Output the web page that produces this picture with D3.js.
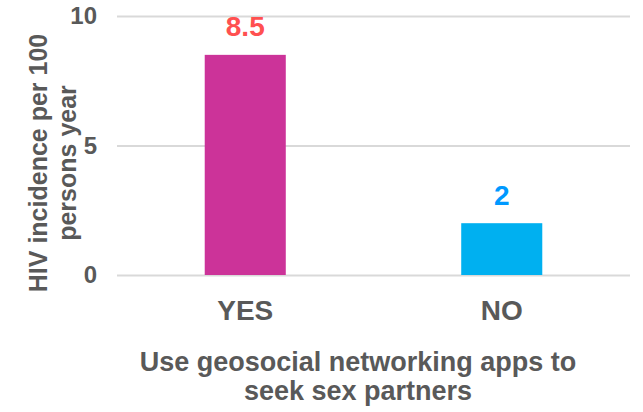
<!DOCTYPE html>
<html>
<head>
<meta charset="utf-8">
<script src="https://cdn.jsdelivr.net/npm/d3@7"></script>
<style>
  html, body { margin: 0; padding: 0; background: #ffffff; }
  svg { display: block; font-family: "Liberation Sans", Arial, sans-serif; font-weight: bold; }
</style>
</head>
<body>
<svg id="chart" width="643" height="412"></svg>
<script>
const categories = ["YES", "NO"];
const values = [8.5, 2];
const barColors = ["#CC3399", "#00B0F0"];
const labelColors = ["#FF5050", "#0099FF"];
const yTicks = [0, 5, 10];
const yTitleLines = ["HIV incidence per 100", "persons year"];
const xTitleLines = ["Use geosocial networking apps to", "seek sex partners"];

const svg = d3.select("#chart");
const plotLeft = 117, plotRight = 630, plotTop = 16, plotBottom = 275;
const textColor = "#595959";

const x = d3.scaleBand().domain(categories).range([plotLeft, plotRight])
  .paddingInner(0.684).paddingOuter(0.342);
const y = d3.scaleLinear().domain([0, 10]).range([plotBottom, plotTop]);

// gridlines
const grid = d3.axisLeft(y).tickValues(yTicks).tickSize(-(plotRight - plotLeft)).tickFormat("");
svg.append("g").attr("transform", `translate(${plotLeft},0)`).call(grid)
  .call(g => g.select(".domain").remove())
  .call(g => g.selectAll("line").attr("stroke", "#D9D9D9").attr("stroke-width", 2));

// y tick labels
const yAxis = d3.axisLeft(y).tickValues(yTicks).tickSize(0).tickPadding(20).tickFormat(d3.format("d"));
svg.append("g").attr("transform", `translate(${plotLeft},0)`).call(yAxis)
  .call(g => g.select(".domain").remove())
  .call(g => g.selectAll("text").attr("fill", textColor)
    .style("font-size", "24px").style("font-family", "Liberation Sans, Arial, sans-serif").style("font-weight", "bold"));

// bars
svg.append("g").selectAll("rect").data(categories).join("rect")
  .attr("x", d => x(d))
  .attr("width", x.bandwidth())
  .attr("y", (d, i) => y(values[i]))
  .attr("height", (d, i) => y(0) - y(values[i]))
  .attr("fill", (d, i) => barColors[i]);

// value labels
svg.append("g").selectAll("text").data(categories).join("text")
  .attr("x", d => x(d) + x.bandwidth() / 2)
  .attr("y", (d, i) => y(values[i]) - 18.5)
  .attr("text-anchor", "middle")
  .attr("fill", (d, i) => labelColors[i])
  .style("font-size", "28px")
  .text((d, i) => values[i]);

// x axis category labels
const xAxis = d3.axisBottom(x).tickSize(0).tickPadding(0);
svg.append("g").attr("transform", `translate(0,${plotBottom})`).call(xAxis)
  .call(g => g.select(".domain").remove())
  .call(g => g.selectAll("text").attr("fill", textColor).attr("dy", null).attr("y", 45)
    .style("font-size", "28px").style("font-family", "Liberation Sans, Arial, sans-serif").style("font-weight", "bold"));

// x title
svg.append("g").selectAll("text").data(xTitleLines).join("text")
  .attr("x", 358)
  .attr("y", (d, i) => 371 + i * 29)
  .attr("text-anchor", "middle")
  .attr("fill", textColor)
  .style("font-size", "27px")
  .text(d => d);

// y title
svg.append("g").selectAll("text").data(yTitleLines).join("text")
  .attr("transform", (d, i) => `translate(${47 + i * 29},163) rotate(-90)`)
  .attr("text-anchor", "middle")
  .attr("fill", textColor)
  .style("font-size", "25px")
  .text(d => d);
</script>
</body>
</html>
